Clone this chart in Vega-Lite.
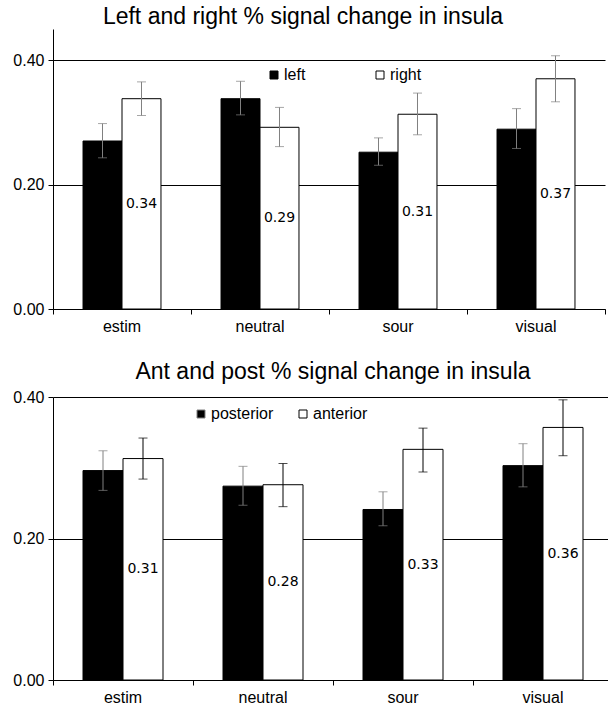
{
  "$schema": "https://vega.github.io/schema/vega-lite/v6.json",
  "padding": {"left": 12, "top": 6, "right": 0, "bottom": 0},
  "background": "white",
  "spacing": 27,
  "config": {
    "font": "Liberation Sans",
    "view": {"stroke": null},
    "axis": {
      "domainColor": "black", "domainWidth": 1,
      "tickColor": "black", "tickWidth": 1, "tickSize": 5,
      "labelColor": "black", "labelFontSize": 16, "labelFont": "Liberation Sans",
      "gridColor": "black", "gridOpacity": 1, "gridWidth": 1,
      "title": null
    },
    "title": {"fontSize": 23, "fontWeight": "normal", "color": "black", "font": "Liberation Sans", "baseline": "alphabetic", "anchor": "middle"},
    "legend": {
      "title": null, "orient": "none", "direction": "horizontal",
      "symbolType": "square", "symbolSize": 64,
      "symbolStrokeColor": "black", "symbolStrokeWidth": 1,
      "labelFontSize": 16, "labelFont": "Liberation Sans", "labelColor": "black",
      "labelOffset": 2, "padding": 0
    }
  },
  "resolve": {
    "scale": {"x": "independent", "y": "independent", "fill": "independent", "color": "independent", "xOffset": "independent"},
    "legend": {"fill": "independent"}
  },
  "datasets": {
    "lr": [
      {"cat": "estim", "side": "left", "value": 0.270, "lo": 0.243, "hi": 0.298},
      {"cat": "estim", "side": "right", "value": 0.338, "lo": 0.311, "hi": 0.365},
      {"cat": "neutral", "side": "left", "value": 0.338, "lo": 0.312, "hi": 0.366},
      {"cat": "neutral", "side": "right", "value": 0.292, "lo": 0.261, "hi": 0.324},
      {"cat": "sour", "side": "left", "value": 0.252, "lo": 0.231, "hi": 0.275},
      {"cat": "sour", "side": "right", "value": 0.313, "lo": 0.280, "hi": 0.347},
      {"cat": "visual", "side": "left", "value": 0.289, "lo": 0.258, "hi": 0.322},
      {"cat": "visual", "side": "right", "value": 0.370, "lo": 0.333, "hi": 0.407}
    ],
    "ap": [
      {"cat": "estim", "side": "posterior", "value": 0.296, "lo": 0.268, "hi": 0.324},
      {"cat": "estim", "side": "anterior", "value": 0.313, "lo": 0.284, "hi": 0.342},
      {"cat": "neutral", "side": "posterior", "value": 0.274, "lo": 0.247, "hi": 0.302},
      {"cat": "neutral", "side": "anterior", "value": 0.276, "lo": 0.245, "hi": 0.306},
      {"cat": "sour", "side": "posterior", "value": 0.241, "lo": 0.218, "hi": 0.266},
      {"cat": "sour", "side": "anterior", "value": 0.326, "lo": 0.294, "hi": 0.356},
      {"cat": "visual", "side": "posterior", "value": 0.303, "lo": 0.273, "hi": 0.334},
      {"cat": "visual", "side": "anterior", "value": 0.357, "lo": 0.317, "hi": 0.396}
    ]
  },
  "vconcat": [
    {
      "title": {"text": "Left and right % signal change in insula", "dx": -26, "offset": 0},
      "width": 552,
      "height": 280,
      "data": {"name": "lr"},
      "encoding": {
        "x": {"field": "cat", "type": "nominal", "sort": ["estim", "neutral", "sour", "visual"],
              "scale": {"paddingInner": 0, "paddingOuter": 0},
              "axis": {"labelAngle": 0, "bandPosition": 1, "tickExtra": true, "labelPadding": 4}},
        "xOffset": {"field": "side", "type": "nominal", "sort": ["left", "right"],
                    "scale": {"paddingInner": 0, "paddingOuter": 0.77}}
      },
      "layer": [
        {
          "mark": {"type": "bar", "stroke": "black", "strokeWidth": 1},
          "encoding": {
            "y": {"field": "value", "type": "quantitative", "scale": {"domain": [0, 0.45], "nice": false},
                  "axis": {"values": [0, 0.2, 0.4], "format": ".2f", "grid": true, "labelPadding": 4}},
            "fill": {"field": "side", "type": "nominal",
                     "scale": {"domain": ["left", "right"], "range": ["black", "white"]},
                     "legend": {"legendX": 213, "legendY": 38, "columnPadding": 66}}
          }
        },
        {
          "mark": {"type": "rule", "color": "#808080", "strokeWidth": 1},
          "encoding": {
            "y": {"field": "lo", "type": "quantitative", "scale": {"domain": [0, 0.45], "nice": false}, "axis": null},
            "y2": {"field": "hi"}
          }
        },
        {
          "mark": {"type": "tick", "color": "#808080", "size": 9, "thickness": 1},
          "encoding": {
            "y": {"field": "lo", "type": "quantitative", "scale": {"domain": [0, 0.45], "nice": false}, "axis": null}
          }
        },
        {
          "mark": {"type": "tick", "color": "#808080", "size": 9, "thickness": 1},
          "encoding": {
            "y": {"field": "hi", "type": "quantitative", "scale": {"domain": [0, 0.45], "nice": false}, "axis": null}
          }
        },
        {
          "transform": [{"filter": "datum.side == 'right'"}],
          "mark": {"type": "text", "font": "DejaVu Sans", "fontSize": 14, "baseline": "middle", "align": "center", "color": "black"},
          "encoding": {
            "y": {"field": "value", "type": "quantitative", "scale": {"domain": [0, 0.9], "nice": false}, "axis": null},
            "text": {"field": "value", "type": "quantitative", "format": ".2f"}
          }
        }
      ],
      "resolve": {"scale": {"y": "independent"}}
    },
    {
      "title": {"text": "Ant and post % signal change in insula", "offset": 5},
      "width": 560,
      "height": 283,
      "data": {"name": "ap"},
      "encoding": {
        "x": {"field": "cat", "type": "nominal", "sort": ["estim", "neutral", "sour", "visual"],
              "scale": {"paddingInner": 0, "paddingOuter": 0},
              "axis": {"labelAngle": 0, "bandPosition": 1, "tickExtra": true, "labelPadding": 4}},
        "xOffset": {"field": "side", "type": "nominal", "sort": ["posterior", "anterior"],
                    "scale": {"paddingInner": 0, "paddingOuter": 0.75}}
      },
      "layer": [
        {
          "mark": {"type": "bar", "stroke": "black", "strokeWidth": 1},
          "encoding": {
            "y": {"field": "value", "type": "quantitative", "scale": {"domain": [0, 0.4], "nice": false},
                  "axis": {"values": [0, 0.2, 0.4], "format": ".2f", "grid": true, "labelPadding": 4}},
            "fill": {"field": "side", "type": "nominal",
                     "scale": {"domain": ["posterior", "anterior"], "range": ["black", "white"]},
                     "legend": {"legendX": 140, "legendY": 9, "columnPadding": 21}}
          }
        },
        {
          "mark": {"type": "rule", "strokeWidth": 1},
          "encoding": {
            "y": {"field": "lo", "type": "quantitative", "scale": {"domain": [0, 0.4], "nice": false}, "axis": null},
            "y2": {"field": "hi"},
            "color": {"field": "side", "type": "nominal", "scale": {"domain": ["posterior", "anterior"], "range": ["#808080", "black"]}, "legend": null}
          }
        },
        {
          "mark": {"type": "tick", "size": 9, "thickness": 1},
          "encoding": {
            "y": {"field": "lo", "type": "quantitative", "scale": {"domain": [0, 0.4], "nice": false}, "axis": null},
            "color": {"field": "side", "type": "nominal", "scale": {"domain": ["posterior", "anterior"], "range": ["#808080", "black"]}, "legend": null}
          }
        },
        {
          "mark": {"type": "tick", "size": 9, "thickness": 1},
          "encoding": {
            "y": {"field": "hi", "type": "quantitative", "scale": {"domain": [0, 0.4], "nice": false}, "axis": null},
            "color": {"field": "side", "type": "nominal", "scale": {"domain": ["posterior", "anterior"], "range": ["#808080", "black"]}, "legend": null}
          }
        },
        {
          "transform": [{"filter": "datum.side == 'anterior'"}],
          "mark": {"type": "text", "font": "DejaVu Sans", "fontSize": 14, "baseline": "middle", "align": "center", "color": "black"},
          "encoding": {
            "y": {"field": "value", "type": "quantitative", "scale": {"domain": [0, 0.8], "nice": false}, "axis": null},
            "text": {"field": "value", "type": "quantitative", "format": ".2f"}
          }
        }
      ],
      "resolve": {"scale": {"y": "independent"}}
    }
  ]
}
